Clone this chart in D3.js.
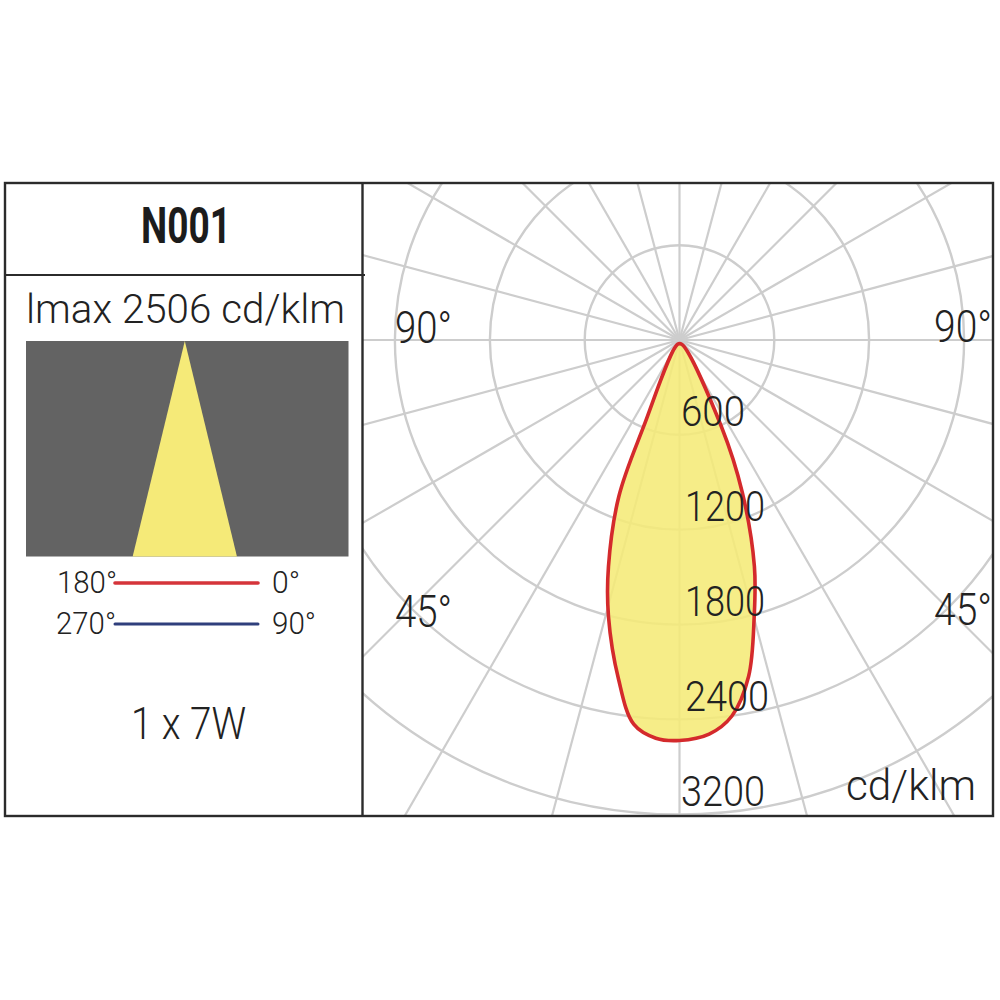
<!DOCTYPE html>
<html><head><meta charset="utf-8">
<script src="https://cdn.jsdelivr.net/npm/d3@7"></script>
<style>html,body{margin:0;padding:0;background:#fff}svg{display:block}text{font-family:Roboto,"Open Sans",sans-serif;font-weight:300;fill:#222}</style>
</head><body><svg id="c" width="1000" height="1000"></svg>
<script>
const productCode = "N001";
const peakLabel = "lmax 2506 cd/klm";
const powerLabel = "1 x 7W";
const unitLabel = "cd/klm";
const ringValues = [600, 1200, 1800, 2400, 3200];
const ringLabelX = [681, 685, 685, 685, 681];
const ringLabelW = [64, 80, 80, 84, 84];
const spokeAngles = d3.range(0, 360, 15);
// C0-C180 curve: signed angle from nadir (deg), intensity (cd/klm)
const curveAngles = [-24, -22.5, -21.2, -17.4, -14.4, -10.2, -6.8, -3.4, 0, 4.3, 7.9, 11.6, 15.1, 18.3, 22.4, 25.8, 27];
const curveValues = [30, 594, 1061, 1503, 1806, 2179, 2463, 2564, 2577, 2533, 2404, 2173, 1813, 1509, 1042, 610, 30];
const beamHalfAngle = 13.6;
const legendRows = [
  {left:"180°", right:"0°", color:"#d5343a", w:3.6, lw:60, rw:28},
  {left:"270°", right:"90°", color:"#2f3f7c", w:3, lw:60, rw:44}
];

const svg = d3.select("#c");
const cx = 679.5, cy = 340;
const frame = {x0:5, x1:993, y0:183, y1:816, div:362.5, head:275};
const r = d3.scaleLinear().domain([0,600,1200,1800,2400,3200]).range([0,94.8,189.6,284.6,379.4,474.5]);

svg.append("defs").append("clipPath").attr("id","plot").append("rect")
  .attr("x",frame.div).attr("y",frame.y0).attr("width",frame.x1-frame.div).attr("height",frame.y1-frame.y0);

const plot = svg.append("g").attr("clip-path","url(#plot)").attr("transform",null);
const gridCol = "#cdcdcd";
plot.selectAll("line.s").data(spokeAngles).join("line")
  .attr("x1",cx).attr("y1",cy)
  .attr("x2",d=>cx+800*Math.sin(d*Math.PI/180))
  .attr("y2",d=>cy+800*Math.cos(d*Math.PI/180))
  .attr("stroke",gridCol).attr("stroke-width",2.2);
plot.selectAll("circle").data(ringValues).join("circle")
  .attr("cx",cx).attr("cy",cy).attr("r",d=>r(d))
  .attr("fill","none").attr("stroke",gridCol).attr("stroke-width",2.4);

const pts = curveAngles.map((a,i)=>[a,curveValues[i]]);
const radial = d3.lineRadial().angle(d=>Math.PI-d[0]*Math.PI/180).radius(d=>r(d[1])).curve(d3.curveCatmullRomClosed.alpha(0.5));
plot.append("path").attr("transform",`translate(${cx},${cy})`).attr("d",radial(pts))
  .attr("fill","#f5ea78").attr("fill-opacity",0.88)
  .attr("stroke","#d42a2c").attr("stroke-width",3.6).attr("stroke-linejoin","round");

function label(t,x,y,size,w,weight){
  const e = svg.append("text").attr("x",x).attr("y",y).attr("font-size",size).text(t)
    .attr("textLength",w).attr("lengthAdjust","spacingAndGlyphs");
  if(weight) e.style("font-weight",weight);
  return e;
}
ringValues.forEach((v,i)=>label(v,ringLabelX[i],cy+r(v)-8.5,43,ringLabelW[i]));
label("90°",395,343,44,57); label("90°",934,342,44,58);
label("45°",395,627,44,57); label("45°",934,625,44,58);
label(unitLabel,846,800,42,130);

// left panel
const panel = {x:26,y:341,w:322.5,h:215.5};
svg.append("rect").attr("x",panel.x).attr("y",panel.y).attr("width",panel.w).attr("height",panel.h).attr("fill","#636363");
const beam = d3.scaleLinear().domain([-1,1]).range([184.8-panel.h*Math.tan(beamHalfAngle*Math.PI/180),184.8+panel.h*Math.tan(beamHalfAngle*Math.PI/180)]);
svg.append("path").attr("d",d3.line()([[beam(0),panel.y],[beam(1),panel.y+panel.h],[beam(-1),panel.y+panel.h]])+"Z").attr("fill","#f5ea78");

label(productCode,141,243,50,90,700).style("fill","#1c1c1c");
label(peakLabel,26,323,40,319);
legendRows.forEach((d,i)=>{
  const y = 583+i*41;
  svg.append("line").attr("x1",115).attr("x2",258).attr("y1",y).attr("y2",y)
    .attr("stroke",d.color).attr("stroke-width",d.w).attr("stroke-linecap","round");
  label(d.left,57-i,y+9.5,32,d.lw);
  label(d.right,272,y+9.5,32,d.rw);
});
label(powerLabel,131,739,44,115);

// frame
const fc = "#2b2b2b";
svg.append("rect").attr("x",frame.x0).attr("y",frame.y0).attr("width",frame.x1-frame.x0).attr("height",frame.y1-frame.y0)
  .attr("fill","none").attr("stroke",fc).attr("stroke-width",2.4);
svg.append("line").attr("x1",frame.div).attr("x2",frame.div).attr("y1",frame.y0).attr("y2",frame.y1).attr("stroke",fc).attr("stroke-width",2.4);
svg.append("line").attr("x1",frame.x0).attr("x2",365).attr("y1",frame.head).attr("y2",frame.head).attr("stroke",fc).attr("stroke-width",2.2);
</script></body></html>
